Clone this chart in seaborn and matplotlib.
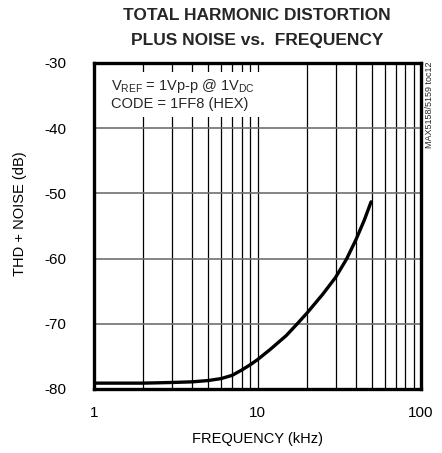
import numpy as np
import pandas as pd
import matplotlib
matplotlib.use("Agg")
import matplotlib.pyplot as plt
import matplotlib.patches as mpatches
import seaborn as sns
from matplotlib.ticker import FixedLocator, NullFormatter

freq_khz = [1, 2, 3, 4, 5, 6, 7, 8, 9, 10, 12, 15, 17.5, 20, 25, 30, 35, 40, 45, 49.5]
thd_db = [-79.1, -79.1, -79.0, -78.9, -78.7, -78.4, -77.9, -77.1, -76.3, -75.5,
          -73.9, -71.8, -70.0, -68.4, -65.5, -62.9, -60.1, -57.1, -54.1, -51.3]
x_ticks = [1, 10, 100]
x_tick_labels = ["1", "10", "100"]
y_ticks = [-80, -70, -60, -50, -40, -30]

sns.set_theme(style="white")
fam = ["Liberation Sans Narrow", "Liberation Sans", "DejaVu Sans"]
plt.rcParams["font.family"] = fam

df = pd.DataFrame({"f": freq_khz, "thd": thd_db})

fig = plt.figure(figsize=(4.42, 4.53), dpi=100)
ax = fig.add_axes([94/442, 1-389/453, (421-94)/442, (389-63)/453])

# grid
minor = [m * d for d in (1, 10) for m in range(2, 10)]
for v in minor + [10]:
    ax.axvline(v, color="black", lw=0.9, zorder=1)
for v in [-70, -60, -50, -40]:
    ax.axhline(v, color="#707070", lw=1.2, zorder=1)

sns.lineplot(data=df, x="f", y="thd", ax=ax, color="black", lw=2.4, zorder=3)

ax.set_xscale("log")
ax.set_xlim(1, 100)
ax.set_ylim(-80, -30)
ax.xaxis.set_major_locator(FixedLocator(x_ticks))
ax.set_xticklabels(x_tick_labels)
ax.xaxis.set_minor_formatter(NullFormatter())
ax.set_yticks(y_ticks)
ax.set_yticklabels([str(v) for v in y_ticks])
ax.tick_params(axis="both", which="both", length=0, labelsize=11, colors="black")
ax.tick_params(axis="y", pad=20)
ax.tick_params(axis="x", pad=12)
for s in ax.spines.values():
    s.set_linewidth(2.4)
    s.set_color("black")
    s.set_zorder(5)

ax.set_xlabel("FREQUENCY (kHz)", fontsize=10.5, labelpad=9, color="black")
ax.set_ylabel("THD + NOISE (dB)", fontsize=10.5, color="black")
ax.yaxis.set_label_coords(-0.205, 0.537)

# white box behind annotation
ax.add_patch(mpatches.Rectangle((0.0, 0.834), 0.525, 0.972 - 0.834, transform=ax.transAxes,
                                facecolor="white", edgecolor="none", zorder=2))
ax.text(0.052, 0.929, "$\\mathregular{V_{REF}}$ = 1Vp-p @ 1$\\mathregular{V_{DC}}$",
        transform=ax.transAxes, va="center", ha="left", fontsize=10.5, zorder=4)
ax.text(0.052, 0.874, "CODE = 1FF8 (HEX)",
        transform=ax.transAxes, va="center", ha="left", fontsize=10.5, zorder=4)

fig.text(257/442, 1-15/453, "TOTAL HARMONIC DISTORTION", ha="center", va="center",
         fontsize=12.5, fontweight="bold")
fig.text(257/442, 1-40/453, "PLUS NOISE vs.  FREQUENCY", ha="center", va="center",
         fontsize=12.5, fontweight="bold")
fig.text(430/442, 1-105/453, "MAX5158/5159 toc12", ha="center", va="center",
         rotation=90, fontsize=6.5)

fig.savefig("out.png", dpi=100, facecolor="white")
